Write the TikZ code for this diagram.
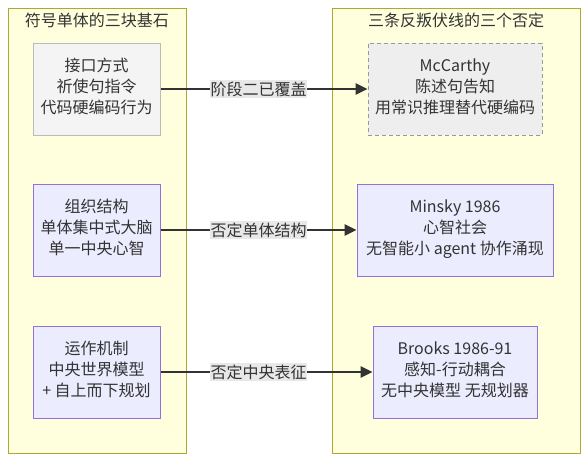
\documentclass[tikz,border=0pt]{standalone}
\usepackage{fontspec}
\setmainfont{Noto Sans CJK SC}
\usetikzlibrary{arrows.meta,positioning}

\definecolor{clusterfill}{HTML}{FFFFDE}
\definecolor{clusterline}{HTML}{AAAA33}
\definecolor{blockfill}{HTML}{ECECFF}
\definecolor{blockline}{HTML}{9370DB}
\definecolor{greyfill}{HTML}{F4F4F4}
\definecolor{greyline}{HTML}{BBBBBB}
\definecolor{dashfill}{HTML}{EEEEEE}
\definecolor{dashline}{HTML}{999999}
\definecolor{labelfill}{HTML}{E8E8E8}
\definecolor{ink}{HTML}{333333}

% block text sits a little above the middle of its box
\newcommand{\blocktext}[1]{\raisebox{0.5pt}[\height][\depth]{\begin{tabular}{@{}c@{}}#1\end{tabular}}}

\tikzset{
	every cluster/.style={draw=clusterline, fill=clusterfill, line width=0.75pt, anchor=north west, minimum height=333.75pt, inner sep=0pt},
	every block/.style={draw=blockline, fill=blockfill, line width=0.75pt, text=ink, align=center, font=\fontsize{12}{15.75}\selectfont, minimum height=69pt, inner sep=0pt},
	every title/.style={text=ink, font=\fontsize{12}{15.75}\selectfont, inner sep=0pt},
	every cut/.style={fill=labelfill, text=ink, font=\fontsize{12}{15.75}\selectfont, inner xsep=0.5pt, inner ysep=1.5pt},
	sym 1/.style={draw=greyline, fill=greyfill},
	neg 1/.style={draw=dashline, fill=dashfill, dash pattern=on 3pt off 2.25pt, minimum width=130.5pt},
	neg 2/.style={minimum width=147pt},
	neg 3/.style={minimum width=123pt}
}

\begin{document}
\begin{tikzpicture}[x=0.75pt, y=-0.75pt, >={Triangle[length=9pt,width=8.5pt]}]
\useasboundingbox (0,0) rectangle (586,461);

%the two groups
\node [every cluster/.try, minimum width=133.5pt] (symbolic) at (8,8) {};
\node [every cluster/.try, minimum width=186pt] (rebel) at (332,8) {};
\node [every title/.try] (symbolic-title) at (97,20) {符号单体的三块基石};
\node [every title/.try] (rebel-title) at (456,20) {三条反叛伏线的三个否定};

\foreach \y/\t [count=\i] in {89/{接口方式\\祈使句指令\\代码硬编码行为}, 230/{组织结构\\单体集中式大脑\\单一中央心智}, 372/{运作机制\\中央世界模型\\+ 自上而下规划}}
	\node [every block/.try, minimum width=95.25pt, sym \i/.try] (sym-\i) at (96.5,\y) {\blocktext{\t}};

\foreach \y/\t [count=\i] in {89/{McCarthy\\陈述句告知\\用常识推理替代硬编码}, 230/{Minsky 1986\\心智社会\\无智能小 agent 协作涌现}, 372/{Brooks 1986-91\\感知-行动耦合\\无中央模型 无规划器}}
	\node [every block/.try, neg \i/.try] (neg-\i) at (455,\y) {\blocktext{\t}};

%drawing part
\foreach \i in {1,2,3}
	\draw [->, ink, line width=1.5pt] (sym-\i) -- (neg-\i);

\foreach \y/\l [count=\i] in {89/阶段二已覆盖, 230/否定单体结构, 372/否定中央表征}
	\node [every cut/.try] (cut-\i) at (258.5,\y) {\l};

\end{tikzpicture}
\end{document}
